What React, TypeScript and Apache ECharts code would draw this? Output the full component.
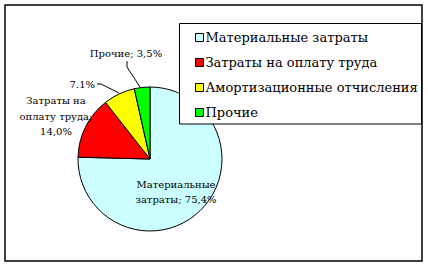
import React, { useEffect, useRef } from "react";
import * as echarts from "echarts";

const categories = [
  "Материальные затраты",
  "Затраты на оплату труда",
  "Амортизационные отчисления",
  "Прочие",
];
const values = [75.4, 14.0, 7.1, 3.5];
const colors = ["#CCFFFF", "#FF0000", "#FFFF00", "#00FF00"];
const labelTemplates = [
  "Материальные\nзатраты; {v}",
  "Затраты на\nоплату труда;\n{v}",
  "{d}",
  "Прочие; {v}",
];

const FONT = "DejaVu Serif";

export default function App() {
  const ref = useRef<HTMLDivElement>(null);
  useEffect(() => {
    if (!ref.current) return;
    const chart = echarts.init(ref.current, undefined, { renderer: "svg" });
    const layouts: any[] = [
      { x: 176, y: 192, align: "center", verticalAlign: "middle" },
      { x: 56, y: 116, align: "center", verticalAlign: "middle" },
      {
        x: 95, y: 84, align: "right", verticalAlign: "middle",
        labelLinePoints: [[97, 84], [101, 84], [119, 93]],
      },
      {
        x: 126, y: 53, align: "center", verticalAlign: "middle",
        labelLinePoints: [[127, 61], [127, 67], [140, 87]],
      },
    ];
    chart.setOption({
      animation: false,
      backgroundColor: "#FFFFFF",
      graphic: [
        {
          type: "rect",
          z: 10,
          shape: { x: 5, y: 5, width: 417, height: 256 },
          style: { fill: "none", stroke: "#000", lineWidth: 1.5 },
        },
        {
          type: "rect",
          z: 3,
          shape: { x: 179.5, y: 23.5, width: 242, height: 100.5 },
          style: { fill: "#FFFFFF", stroke: "#000", lineWidth: 1 },
        },
      ],
      legend: {
        orient: "vertical",
        left: 195,
        top: 29.5,
        padding: 0,
        itemWidth: 8,
        itemHeight: 8,
        itemGap: 9,
        icon: "rect",
        data: categories,
        itemStyle: { borderColor: "#000", borderWidth: 1 },
        textStyle: {
          fontFamily: FONT,
          fontSize: 13,
          lineHeight: 16,
          color: "#000",
          padding: [0, 0, 0, -3],
        },
      },
      series: [
        {
          type: "pie",
          center: [150, 159],
          radius: 72,
          startAngle: 90,
          clockwise: true,
          itemStyle: { borderColor: "#000", borderWidth: 1 },
          emphasis: { disabled: true },
          label: {
            show: true,
            position: "outside",
            overflow: "none",
            color: "#000",
            fontFamily: FONT,
            fontSize: 10,
            lineHeight: 15.5,
            formatter: (p: any) => {
              const v = values[p.dataIndex];
              return labelTemplates[p.dataIndex]
                .replace("{v}", v.toFixed(1).replace(".", ",") + "%")
                .replace("{d}", v.toFixed(1) + "%");
            },
          },
          labelLine: { show: true, lineStyle: { color: "#000", width: 1 } },
          labelLayout: (p: any) => layouts[p.dataIndex],
          data: categories.map((name, i) => ({
            name,
            value: values[i],
            itemStyle: { color: colors[i] },
            labelLine: { show: i >= 2 },
          })),
        },
      ],
    });
    return () => chart.dispose();
  }, []);
  return (
    <div
      ref={ref}
      style={{ position: "fixed", left: 0, top: 0, width: 428, height: 267 }}
    />
  );
}
